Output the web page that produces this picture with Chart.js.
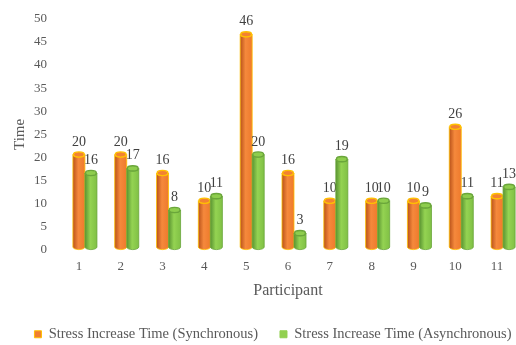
<!DOCTYPE html>
<html><head><meta charset="utf-8">
<script src="https://cdn.jsdelivr.net/npm/chart.js@4/dist/chart.umd.min.js"></script>
<style>html,body{margin:0;padding:0;background:#fff;overflow:hidden}#wrap{width:546px;height:345px}</style>
</head><body><div id="wrap"><canvas id="c" width="546" height="345"></canvas></div>
<script>
const participants = ['1','2','3','4','5','6','7','8','9','10','11'];
const syncValues  = [20,20,16,10,46,16,10,10,10,26,11];
const asyncValues = [16,17,8,11,20,3,19,10,9,11,13];
const seriesNames = ['Stress Increase Time (Synchronous)','Stress Increase Time (Asynchronous)'];
const yTicks = {min:0, max:50, step:5};

const FONT = "'Liberation Serif','Times New Roman',serif";
const styles = [
  {grad:['#B9521A','#F5893C','#EE7A2C'], top:'#F28232', rim:'#FFC000', edge:'#FFC000'},
  {grad:['#5A9432','#94D352','#80C045'], top:'#8ECD4D', rim:'#6AA63A', edge:'#6AA63A'}
];
const DX = 6, DY = -3, RY = 2.6;

const cylPlugin = {
  id:'cyl',
  beforeLayout(chart){
    const lg = chart.legend;
    if (lg && !lg._patched){
      const f = lg.fit;
      lg.fit = function(){ f.call(this); this.height = 40; };
      lg._patched = true;
    }
  },
  beforeDatasetsDraw(chart){
    const ctx = chart.ctx;
    chart.data.datasets.forEach((ds, di) => {
      const meta = chart.getDatasetMeta(di);
      const st = styles[di];
      meta.data.forEach((el, i) => {
        const x = el.x + DX, top = el.y + DY, base = el.base + DY, rx = el.width/2;
        ctx.save();
        const g = ctx.createLinearGradient(x-rx,0,x+rx,0);
        g.addColorStop(0, st.grad[0]); g.addColorStop(0.45, st.grad[1]); g.addColorStop(1, st.grad[2]);
        ctx.beginPath();
        ctx.moveTo(x-rx, top);
        ctx.lineTo(x-rx, base);
        ctx.ellipse(x, base, rx, RY, 0, Math.PI, 0, true);
        ctx.lineTo(x+rx, top);
        ctx.ellipse(x, top, rx, RY, 0, 0, Math.PI, false);
        ctx.closePath();
        ctx.fillStyle = g; ctx.fill();
        ctx.lineWidth = 0.8; ctx.strokeStyle = st.edge; ctx.stroke();
        ctx.beginPath();
        ctx.ellipse(x, top, rx-0.6, RY, 0, 0, Math.PI*2);
        ctx.fillStyle = st.top; ctx.fill();
        ctx.lineWidth = 1.4; ctx.strokeStyle = st.rim; ctx.stroke();
        ctx.fillStyle = '#404040';
        ctx.font = '14px ' + FONT;
        ctx.textAlign = 'center'; ctx.textBaseline = 'bottom';
        ctx.fillText(String(ds.data[i]), x, top - RY - 3);
        ctx.restore();
      });
    });
    return false;
  }
};

new Chart(document.getElementById('c'), {
  type:'bar',
  data:{
    labels: participants,
    datasets:[
      {label:seriesNames[0], data:syncValues, yAxisID:'y', backgroundColor:'#F07F2F', borderColor:'#FFC000', borderWidth:1},
      {label:seriesNames[1], data:asyncValues, yAxisID:'y', backgroundColor:'#92D050', borderColor:'#92D050', borderWidth:1}
    ]
  },
  options:{
    responsive:false, animation:false, devicePixelRatio:1,
    layout:{padding:{left:0,right:0,top:12,bottom:0}},
    datasets:{bar:{categoryPercentage:0.575, barPercentage:1}},
    plugins:{
      tooltip:{enabled:false},
      legend:{position:'bottom', labels:{boxWidth:7, boxHeight:7, padding:22, color:'#595959', font:{family:FONT, size:14.5}}}
    },
    scales:{
      x:{
        grid:{display:false, drawTicks:false}, border:{display:false},
        ticks:{color:'#595959', padding:9, font:{family:FONT, size:13}},
        title:{display:true, text:'Participant', color:'#595959', font:{family:FONT, size:16}, padding:{top:0,bottom:5}},
        afterFit(s){ s.height = 55; }
      },
      y:{
        min:yTicks.min, max:yTicks.max,
        grid:{display:false, drawTicks:false}, border:{display:false},
        ticks:{stepSize:yTicks.step, color:'#595959', padding:11, font:{family:FONT, size:13}},
        title:{display:true, text:'Time', color:'#595959', font:{family:FONT, size:15}, padding:{top:11,bottom:0}},
        afterFit(s){ s.width = 58; }
      },
      yPad:{
        position:'right', min:0, max:1,
        grid:{display:false, drawTicks:false}, border:{display:false},
        ticks:{display:false},
        afterFit(s){ s.width = 28; }
      }
    }
  },
  plugins:[cylPlugin]
});
</script></body></html>
